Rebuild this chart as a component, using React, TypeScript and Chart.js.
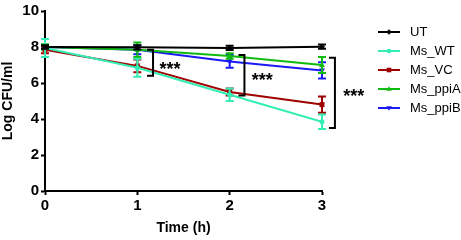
import React, { useEffect, useRef } from "react";
import { Chart, registerables } from "chart.js";

Chart.register(...registerables);

const times = [0, 1, 2, 3];
const seriesNames = ["UT", "Ms_WT", "Ms_VC", "Ms_ppiA", "Ms_ppiB"];
const seriesColors = ["#000000", "#33EEB4", "#A00000", "#10BB10", "#1A1AF5"];
const seriesShapes = ["rectRot", "circle", "rect", "triangle", "triangleDown"];

const utMean = [8.0, 7.98, 7.95, 8.02];
const utErr = [0.1, 0.12, 0.12, 0.12];
const wtMean = [7.95, 6.85, 5.35, 3.85];
const wtErr = [0.5, 0.5, 0.35, 0.4];
const vcMean = [7.85, 6.95, 5.5, 4.8];
const vcErr = [0.2, 0.35, 0.2, 0.45];
const ppiAMean = [8.0, 7.85, 7.5, 7.0];
const ppiAErr = [0.15, 0.4, 0.15, 0.45];
const ppiBMean = [8.0, 7.85, 7.2, 6.7];
const ppiBErr = [0.1, 0.25, 0.35, 0.45];

const means = [utMean, wtMean, vcMean, ppiAMean, ppiBMean];
const errs = [utErr, wtErr, vcErr, ppiAErr, ppiBErr];

const yTicks = [0, 2, 4, 6, 8, 10];
const xTicks = [0, 1, 2, 3];

// significance brackets: x position, y top, y bottom, label position
const bracketX = [1.17, 2.16, 3.14];
const bracketTop = [7.85, 7.55, 7.4];
const bracketBottom = [6.4, 5.3, 3.5];
const bracketLabel = ["***", "***", "***"];
const bracketLabelX = [1.24, 2.24, 3.23];
const bracketLabelY = [7.0, 6.4, 5.5];

const FONT = "'Liberation Sans', Arial, Helvetica, sans-serif";

function drawMarker(ctx: CanvasRenderingContext2D, shape: string, x: number, y: number, r: number, color: string) {
  ctx.save();
  ctx.fillStyle = color;
  ctx.beginPath();
  if (shape === "circle") {
    ctx.arc(x, y, r, 0, Math.PI * 2);
  } else if (shape === "rect") {
    ctx.rect(x - r, y - r, 2 * r, 2 * r);
  } else if (shape === "rectRot") {
    ctx.moveTo(x, y - r * 1.2);
    ctx.lineTo(x + r * 1.2, y);
    ctx.lineTo(x, y + r * 1.2);
    ctx.lineTo(x - r * 1.2, y);
    ctx.closePath();
  } else if (shape === "triangle") {
    ctx.moveTo(x, y - r * 1.2);
    ctx.lineTo(x + r * 1.2, y + r * 0.8);
    ctx.lineTo(x - r * 1.2, y + r * 0.8);
    ctx.closePath();
  } else if (shape === "triangleDown") {
    ctx.moveTo(x, y + r * 1.2);
    ctx.lineTo(x + r * 1.2, y - r * 0.8);
    ctx.lineTo(x - r * 1.2, y - r * 0.8);
    ctx.closePath();
  }
  ctx.fill();
  ctx.restore();
}

const errorBarPlugin = {
  id: "errorBars",
  afterDatasetDraw(chart: any, args: any) {
    const i = args.index;
    const ctx = chart.ctx;
    const xs = chart.scales.x;
    const ys = chart.scales.y;
    ctx.save();
    ctx.strokeStyle = seriesColors[i];
    ctx.lineWidth = 2;
    means[i].forEach((m, j) => {
      const x = xs.getPixelForValue(times[j]);
      const yTop = ys.getPixelForValue(m + errs[i][j]);
      const yBot = ys.getPixelForValue(m - errs[i][j]);
      ctx.beginPath();
      ctx.moveTo(x, yTop);
      ctx.lineTo(x, yBot);
      ctx.moveTo(x - 4, yTop);
      ctx.lineTo(x + 4, yTop);
      ctx.moveTo(x - 4, yBot);
      ctx.lineTo(x + 4, yBot);
      ctx.stroke();
      drawMarker(ctx, seriesShapes[i], x, ys.getPixelForValue(m), 2.5, seriesColors[i]);
    });
    ctx.restore();
  },
};

const annotationPlugin = {
  id: "annot",
  afterDraw(chart: any) {
    const ctx = chart.ctx;
    const xs = chart.scales.x;
    const ys = chart.scales.y;
    ctx.save();
    ctx.strokeStyle = "#000";
    ctx.lineWidth = 2;
    bracketX.forEach((bx, k) => {
      const x = xs.getPixelForValue(bx);
      const y1 = ys.getPixelForValue(bracketTop[k]);
      const y2 = ys.getPixelForValue(bracketBottom[k]);
      ctx.beginPath();
      ctx.moveTo(x - 6, y1);
      ctx.lineTo(x, y1);
      ctx.lineTo(x, y2);
      ctx.lineTo(x - 6, y2);
      ctx.stroke();
      ctx.fillStyle = "#000";
      ctx.font = `bold 18px ${FONT}`;
      ctx.textAlign = "left";
      ctx.textBaseline = "alphabetic";
      ctx.fillText(bracketLabel[k], xs.getPixelForValue(bracketLabelX[k]), ys.getPixelForValue(bracketLabelY[k]) + 10);
    });
    // legend
    const lx = chart.chartArea.right + 56;
    const ly0 = chart.chartArea.top + 21;
    const step = 19;
    seriesNames.forEach((name, i) => {
      const y = ly0 + i * step;
      ctx.strokeStyle = seriesColors[i];
      ctx.lineWidth = 2;
      ctx.beginPath();
      ctx.moveTo(lx, y);
      ctx.lineTo(lx + 22, y);
      ctx.stroke();
      drawMarker(ctx, seriesShapes[i], lx + 11, y, 2.3, seriesColors[i]);
      ctx.fillStyle = "#000";
      ctx.font = `13px ${FONT}`;
      ctx.textAlign = "left";
      ctx.textBaseline = "middle";
      ctx.fillText(name, lx + 32, y);
    });
    ctx.restore();
  },
};

export default function App() {
  const ref = useRef<HTMLCanvasElement | null>(null);
  useEffect(() => {
    if (!ref.current) return;
    const chart = new Chart(ref.current, {
      type: "line",
      data: {
        datasets: seriesNames.map((name, i) => ({
          label: name,
          data: means[i].map((m, j) => ({ x: times[j], y: m })),
          borderColor: seriesColors[i],
          backgroundColor: seriesColors[i],
          borderWidth: 2,
          pointRadius: 0,
          tension: 0,
        })),
      },
      options: {
        animation: false,
        responsive: false,
        layout: { padding: { top: 7, right: 139, left: 0, bottom: 0 } },
        plugins: { legend: { display: false }, tooltip: { enabled: false } },
        scales: {
          x: {
            type: "linear",
            min: 0,
            max: 3,
            afterFit: (s: any) => { s.height = 49; },
            afterBuildTicks: (s: any) => { s.ticks = xTicks.map((v) => ({ value: v })); },
            grid: { display: true, drawOnChartArea: false, drawTicks: true, tickLength: 4, tickWidth: 2, tickColor: "#000" },
            border: { display: true, width: 2, color: "#000" },
            ticks: { color: "#000", font: { family: FONT, size: 15, weight: "bold" }, padding: 2 },
            title: { display: true, text: "Time (h)", color: "#000", font: { family: FONT, size: 14, weight: "bold" }, padding: { top: 0, bottom: 3 } },
          },
          y: {
            type: "linear",
            min: 0,
            max: 10,
            afterFit: (s: any) => { s.width = 45; },
            afterBuildTicks: (s: any) => { s.ticks = yTicks.map((v) => ({ value: v })); },
            grid: { display: true, drawOnChartArea: false, drawTicks: true, tickLength: 4, tickWidth: 2, tickColor: "#000" },
            border: { display: true, width: 2, color: "#000" },
            ticks: { color: "#000", font: { family: FONT, size: 15, weight: "bold" }, padding: 2 },
            title: { display: true, text: "Log CFU/ml", color: "#000", font: { family: FONT, size: 14, weight: "bold" }, padding: { top: 0, bottom: 0 } },
          },
        },
      },
      plugins: [errorBarPlugin, annotationPlugin],
    } as any);
    return () => chart.destroy();
  }, []);
  return (
    <div style={{ position: "fixed", left: 0, top: 0, width: 461, height: 240, background: "#fff" }}>
      <canvas ref={ref} width={461} height={240} />
    </div>
  );
}
